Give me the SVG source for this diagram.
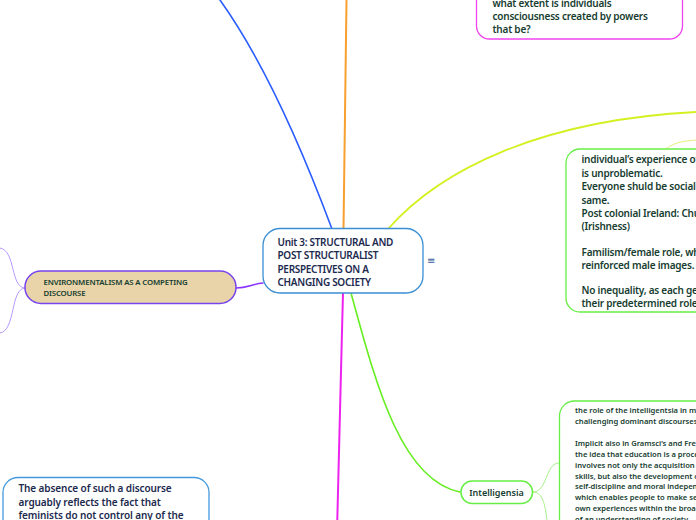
<svg xmlns="http://www.w3.org/2000/svg" width="696" height="520" viewBox="0 0 696 520">
<style>
.t{font-family:"Noto Sans","Open Sans","Liberation Sans",sans-serif;fill:#163d30;font-weight:600}
.n{fill:#1b2a4e}
.ls{letter-spacing:-0.22px}
.ln{fill:none;stroke-linecap:round}
</style>
<rect width="696" height="520" fill="#ffffff"/>
<g id="connectors">
<path class="ln" d="M332,229 C310,170 270,70 220,0" stroke="#2a5cff" stroke-width="1.6"/>
<path class="ln" d="M343.5,229 C344.5,150 345.5,80 346.5,0" stroke="#f7a030" stroke-width="2"/>
<path class="ln" d="M388,229 C440,170 540,120 696,112" stroke="#d4f020" stroke-width="1.8"/>
<path class="ln" d="M667,148 C675,142 685,141 696,140" stroke="#e4f07a" stroke-width="1"/>
<path class="ln" d="M343,293 C341,370 339,450 337.3,520" stroke="#ee22ee" stroke-width="2"/>
<path class="ln" d="M351,293 C375,380 400,480 460,492" stroke="#66ee22" stroke-width="1.6"/>
<path class="ln" d="M533,492 C548,492 545,463 559,463" stroke="#a8f08a" stroke-width="1"/>
<path class="ln" d="M533,492 C543,492 545,505 547,520" stroke="#a8f08a" stroke-width="1"/>
<path class="ln" d="M236,288 C248,288 252,284 263,283" stroke="#8833ff" stroke-width="1.5"/>
<path class="ln" d="M25,288 C10,288 16,250 0,248" stroke="#b899ff" stroke-width="1"/>
<path class="ln" d="M25,288 C10,288 16,331 0,333" stroke="#b899ff" stroke-width="1"/>
</g>
<g id="central">
<rect x="263" y="228.5" width="160" height="64.5" rx="17" fill="#ffffff" stroke="#3a8fd4" stroke-width="1.3"/>
<text class="t n" font-size="10" letter-spacing="-0.3"><tspan x="277.5" y="245.5">Unit 3: STRUCTURAL AND</tspan><tspan x="277.5" y="259">POST STRUCTURALIST</tspan><tspan x="277.5" y="272.5">PERSPECTIVES ON A</tspan><tspan x="277.5" y="286">CHANGING SOCIETY</tspan></text>
<text x="427" y="263.5" font-size="10" font-family="'DejaVu Sans',sans-serif" fill="#3a5a9a">≡</text>
</g>
<g id="top-right">
<rect x="476.5" y="-20" width="206" height="59" rx="13" fill="#ffffff" stroke="#ee44ee" stroke-width="1.3"/>
<text class="t ls" font-size="10"><tspan x="492.5" y="6.5">what extent is individuals</tspan><tspan x="492.5" y="20">consciousness created by powers</tspan><tspan x="492.5" y="33">that be?</tspan></text>
</g>
<g id="right-box">
<rect x="566" y="149" width="160" height="163" rx="14" fill="#ffffff" stroke="#66ee44" stroke-width="1.3"/>
<text class="t ls" font-size="10"><tspan x="581.5" y="163">individual’s experience of</tspan><tspan x="581.5" y="176.5">is unproblematic.</tspan><tspan x="581.5" y="190">Everyone shuld be socialised</tspan><tspan x="581.5" y="203.5">same.</tspan><tspan x="581.5" y="216.5">Post colonial Ireland: Church</tspan><tspan x="581.5" y="230">(Irishness)</tspan><tspan x="581.5" y="255.5">Familism/female role, which</tspan><tspan x="581.5" y="268.5">reinforced male images.</tspan><tspan x="581.5" y="293.5">No inequality, as each gender</tspan><tspan x="581.5" y="306.5">their predetermined roles</tspan></text>
</g>
<g id="environmentalism">
<rect x="25" y="271" width="211" height="32.5" rx="16" fill="#e8d4a8" stroke="#7744ee" stroke-width="1.5"/>
<text class="t" font-size="7.8" letter-spacing="-0.15"><tspan x="43.5" y="285">ENVIRONMENTALISM AS A COMPETING</tspan><tspan x="43.5" y="296">DISCOURSE</tspan></text>
</g>
<g id="intelligensia">
<rect x="461" y="481" width="71.5" height="22.5" rx="11" fill="#ffffff" stroke="#66ee44" stroke-width="1.5"/>
<text class="t" x="496.5" y="495.5" font-size="9" text-anchor="middle">Intelligensia</text>
</g>
<g id="intelligentsia-text">
<rect x="559.5" y="401" width="170" height="140" rx="15" fill="#ffffff" stroke="#66ee44" stroke-width="1.3"/>
<text class="t" font-size="7.6"><tspan x="575" y="413">the role of the intelligentsia in maintaining</tspan><tspan x="575" y="424">challenging dominant discourses</tspan><tspan x="575" y="445.8">Implicit also in Gramsci’s and Freire’s</tspan><tspan x="575" y="456.7">the idea that education is a process</tspan><tspan x="575" y="467.6">involves not only the acquisition of</tspan><tspan x="575" y="478.5">skills, but also the development of</tspan><tspan x="575" y="489.4">self-discipline and moral independence</tspan><tspan x="575" y="500.3">which enables people to make sense</tspan><tspan x="575" y="511.2">own experiences within the broader</tspan><tspan x="575" y="522.1">of an understanding of society</tspan></text>
</g>
<g id="bottom-left">
<rect x="3" y="477.5" width="206" height="80" rx="15" fill="#ffffff" stroke="#4499dd" stroke-width="1.3"/>
<text class="t n" font-size="10" letter-spacing="-0.1"><tspan x="18.5" y="492">The absence of such a discourse</tspan><tspan x="18.5" y="506">arguably reflects the fact that</tspan><tspan x="18.5" y="519">feminists do not control any of the</tspan></text>
</g>
</svg>
